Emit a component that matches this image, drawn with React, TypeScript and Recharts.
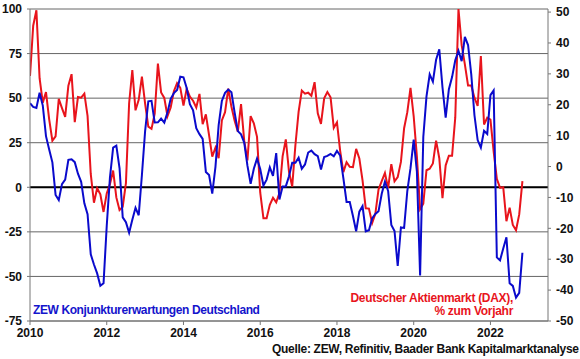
import React from "react";
import { LineChart, Line, XAxis, YAxis, CartesianGrid, ReferenceLine } from "recharts";

// ZEW economic sentiment Germany, monthly Jan 2010 - Nov 2022 (left axis)
const zew = [
  47.2, 45.1, 44.5, 53.0, 45.8, 28.7, 21.2, 14.0, -4.3, -7.2, 1.8, 4.3,
  15.4, 15.7, 14.1, 7.6, 3.1, -9.0, -15.1, -37.6, -43.3, -48.3, -55.2, -53.8,
  -21.6, 5.4, 22.3, 23.4, 10.8, -16.9, -19.6, -25.5, -18.2, -11.5, -15.7, 6.9,
  31.5, 48.2, 48.5, 36.3, 36.4, 38.5, 36.3, 42.0, 49.6, 52.8, 54.6, 62.0,
  61.7, 55.7, 46.6, 43.2, 33.1, 29.8, 27.1, 8.6, 6.9, -3.6, 11.5, 34.9,
  48.4, 53.0, 54.8, 53.3, 41.9, 31.5, 29.7, 25.0, 12.1, 1.9, 10.4, 16.1,
  10.2, 1.0, 4.3, 11.2, 6.4, 19.2, -6.8, 0.5, 0.5, 6.2, 13.8, 13.8,
  16.6, 10.4, 12.8, 19.5, 20.6, 18.6, 17.5, 10.0, 17.0, 17.6, 18.7, 17.4,
  20.4, 17.8, 5.1, -8.2, -8.2, -16.1, -24.7, -13.7, -10.6, -24.7, -24.1, -17.5,
  -15.0, -13.4, -3.6, 3.1, -2.1, -21.1, -24.5, -44.1, -22.5, -22.8, -2.1, 10.7,
  26.7, 8.7, -49.5, 28.2, 51.0, 63.4, 59.3, 71.5, 77.4, 56.1, 39.0, 55.0,
  61.8, 71.2, 76.6, 70.7, 84.4, 79.8, 63.3, 40.4, 26.5, 22.3, 31.7, 29.9,
  51.7, 54.3, -39.3, -41.0, -34.3, -28.0, -53.8, -55.3, -61.9, -59.2, -36.7,
];

// DAX, % change on previous year, monthly Jan 2010 - Nov 2022 (right axis)
const dax = [
  29.3, 45.6, 50.6, 28.6, 20.7, 24.1, 15.3, 8.4, 9.8, 21.9, 18.9, 16.1,
  26.2, 29.9, 14.4, 22.5, 22.3, 23.6, 16.4, -2.4, -11.7, -7.0, -9.0, -14.7,
  -8.7, -5.7, -1.3, -10.0, -14.1, -13.0, -5.4, 20.5, 31.2, 18.2, 21.6, 29.1,
  20.4, 12.9, 12.2, 17.1, 33.3, 24.0, 22.2, 16.3, 19.1, 24.4, 27.0, 25.5,
  19.7, 25.2, 22.6, 21.3, 19.1, 23.5, 13.7, 16.9, 10.2, 3.2, 6.1, 2.7,
  14.9, 17.6, 25.2, 19.3, 14.8, 11.3, 20.2, 8.3, 2.0, 16.3, 14.0, 9.6,
  -8.4, -16.7, -16.7, -12.4, -10.1, -11.6, -8.6, 3.3, 8.8, -1.7, -6.5, 6.9,
  17.7, 24.6, 23.6, 23.9, 22.9, 27.3, 17.2, 13.8, 22.1, 24.1, 22.4, 12.5,
  14.3, 5.1, -1.8, 1.4, -0.1, -0.2, 5.7, 2.6, -4.5, -13.5, -13.6, -18.3,
  -15.3, -7.4, -4.7, -2.1, -7.0, 0.8, -4.8, -3.4, 1.5, 12.4, 17.6, 25.5,
  16.2, 3.2, -13.8, -12.0, -1.2, -0.7, 1.0, 8.4, 2.7, -10.2, 0.4, 3.5,
  3.5, 15.9, 51.0, 39.3, 33.1, 26.2, 26.2, 22.3, 19.6, 35.8, 13.6, 15.8,
  15.2, 4.9, -4.0, -6.9, -6.7, -17.7, -13.3, -18.9, -20.6, -15.5, -4.7,
];

const yearTicks = [2010, 2012, 2014, 2016, 2018, 2020, 2022];
const leftTicks = [-75, -50, -25, 0, 25, 50, 75, 100];
const rightTicks = [-50, -40, -30, -20, -10, 0, 10, 20, 30, 40, 50];

const data = zew.map((v, i) => ({ t: 2010 + i / 12, zew: v, dax: dax[i] }));

const tickStyle = { fontSize: 12, fontWeight: 700, fill: "#111", fontFamily: "Liberation Sans, Arial, sans-serif" };

export default function App() {
  return (
    <div style={{ position: "absolute", left: 0, top: 0, width: 580, height: 359, background: "#fff", fontFamily: "Liberation Sans, Arial, sans-serif" }}>
      <LineChart width={580} height={359} data={data} margin={{ top: 9, right: 0, bottom: 0, left: 0 }}>
        <CartesianGrid yAxisId="left" vertical={false} stroke="#666" strokeWidth={1} />
        <XAxis
          dataKey="t"
          type="number"
          domain={[2010, 2023.5]}
          ticks={yearTicks}
          height={38}
          tick={tickStyle}
          tickSize={4}
          tickMargin={3}
          stroke="#777"
          allowDataOverflow
        />
        <YAxis
          yAxisId="left"
          domain={[-75, 100]}
          ticks={leftTicks}
          width={30}
          tick={tickStyle}
          tickSize={3}
          tickMargin={5}
          stroke="#777"
        />
        <YAxis
          yAxisId="right"
          orientation="right"
          domain={[-50, 50]}
          ticks={rightTicks}
          width={32}
          tick={tickStyle}
          tickSize={3}
          tickMargin={5}
          stroke="#777"
        />
        <ReferenceLine yAxisId="left" y={0} stroke="#000" strokeWidth={2} />
        <Line yAxisId="right" dataKey="dax" stroke="#e8141c" strokeWidth={2} dot={false} isAnimationActive={false} />
        <Line yAxisId="left" dataKey="zew" stroke="#0a0acc" strokeWidth={2} dot={false} isAnimationActive={false} />
      </LineChart>
      <div style={{ position: "absolute", left: 33, top: 303, fontSize: 12, fontWeight: 700, color: "#1414cc", whiteSpace: "nowrap", letterSpacing: -0.4 }}>
        ZEW Konjunkturerwartungen Deutschland
      </div>
      <div style={{ position: "absolute", right: 67, top: 292, fontSize: 12, fontWeight: 700, color: "#e8141c", whiteSpace: "nowrap", textAlign: "right", lineHeight: "13px", letterSpacing: -0.3 }}>
        Deutscher Aktienmarkt (DAX),
        <br />% zum Vorjahr
      </div>
      <div style={{ position: "absolute", left: 272, top: 342, fontSize: 12, fontWeight: 700, color: "#111", whiteSpace: "nowrap", letterSpacing: -0.3 }}>
        Quelle: ZEW, Refinitiv, Baader Bank Kapitalmarktanalyse
      </div>
    </div>
  );
}
